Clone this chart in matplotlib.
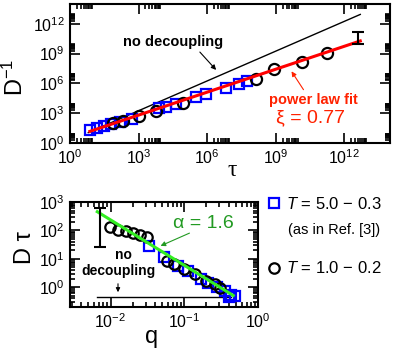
import numpy as np
import matplotlib
matplotlib.use('Agg')
import matplotlib.pyplot as plt
from matplotlib.ticker import FixedLocator, FuncFormatter, NullFormatter

plt.rcParams['font.family'] = ['Liberation Sans', 'DejaVu Sans']
plt.rcParams['mathtext.fontset'] = 'custom'
plt.rcParams['mathtext.rm'] = 'Liberation Sans'
plt.rcParams['mathtext.it'] = 'Liberation Sans:italic'

# ---- top panel data (log10 values) ----
tau_sq = [0.87, 1.17, 1.48, 1.78, 2.17, 2.70, 3.91, 4.22, 4.65, 5.52, 5.96, 6.83, 7.39, 7.74]
dinv_sq = [1.30, 1.55, 1.70, 1.90, 2.15, 2.45, 3.50, 3.65, 3.97, 4.60, 4.90, 5.50, 5.95, 6.25]
tau_ci = [1.88, 2.32, 3.04, 3.78, 4.93, 8.14, 8.91, 10.14, 11.23]
dinv_ci = [1.97, 2.23, 2.70, 3.20, 4.03, 6.47, 7.47, 8.20, 9.07]
tau_err, dinv_err, dinv_err_half = 12.6, 10.55, 0.6
fit_tau = [0.87, 12.7]
xi, fit_amp = 0.77, 0.5
nodec_tau = [0.8, 12.7]
nodec_off = 0.25

# ---- bottom panel data ----
q_sq = [-1.48, -1.27, -1.09, -0.95, -0.77, -0.68, -0.56, -0.45, -0.39, -0.36, -0.31]
dt_sq = [1.46, 1.07, 0.75, 0.57, 0.27, 0.15, 0.00, -0.14, -0.36, -0.26, -0.32]
q_ci = [-2.01, -1.90, -1.79, -1.69, -1.60, -1.50, -1.23, -1.135, -1.00, -0.86, -0.70, -0.59, -0.52]
dt_ci = [2.12, 2.03, 1.97, 1.90, 1.82, 1.76, 0.93, 0.81, 0.63, 0.45, 0.21, 0.10, -0.03]
q_err, dt_err, dt_err_half = -2.14, 2.10, 0.69
alpha, alpha_amp = 1.6, -0.83
alpha_q = [-2.18, -0.335]
nodec_q, nodec_dt = [-2.18, -0.36], -0.36

W, H = 395, 350
fig = plt.figure(figsize=(W / 100, H / 100), dpi=100)


def fx(x):
    return x / W


def fy(y):
    return 1 - y / H


def style_axes(ax):
    for s in ax.spines.values():
        s.set_linewidth(1.5)
    ax.tick_params(which='both', direction='in', top=True, right=True, width=1.2)
    ax.tick_params(which='major', length=7, labelsize=11.5, pad=4)
    ax.tick_params(which='minor', length=3.5)


def sci(v, pos):
    return r'$10^{%d}$' % round(np.log10(v))


# ================= top panel =================
ax1 = fig.add_axes([fx(70), fy(143), fx(390) - fx(70), fy(4) - fy(143)])
ax1.set_xscale('log')
ax1.set_yscale('log')

t = 10 ** np.array(nodec_tau)
ax1.plot(t, t * 10 ** nodec_off, color='black', lw=1.0, zorder=1)
ax1.plot(10 ** np.array(tau_sq), 10 ** np.array(dinv_sq), 's', ms=7, mfc='none',
         mec='#0000ff', mew=1.6, zorder=2)
ax1.plot(10 ** np.array(tau_ci), 10 ** np.array(dinv_ci), 'o', ms=8, mfc='none',
         mec='black', mew=1.6, zorder=3)
tf = 10 ** np.array(fit_tau)
ax1.plot(tf, 10 ** fit_amp * tf ** xi, color='#ff0000', lw=2.2, zorder=4)
ax1.errorbar([10 ** tau_err], [10 ** dinv_err],
             yerr=[[10 ** dinv_err - 10 ** (dinv_err - dinv_err_half)],
                   [10 ** (dinv_err + dinv_err_half) - 10 ** dinv_err]],
             fmt='none', ecolor='black', elinewidth=1.5, capsize=4, capthick=1.5, zorder=5)

ax1.set_xlim(1, 1e14)
ax1.set_ylim(1, 1e14)
maj = 10.0 ** np.arange(0, 15, 3)
mnr = np.concatenate([k * maj for k in range(2, 10)])
for axis in (ax1.xaxis, ax1.yaxis):
    axis.set_major_locator(FixedLocator(maj))
    axis.set_minor_locator(FixedLocator(mnr))
    axis.set_major_formatter(FuncFormatter(sci))
    axis.set_minor_formatter(NullFormatter())
style_axes(ax1)

fig.text(fx(15), fy(77), r'D$^{\mathregular{-1}}$', fontsize=17, rotation=90, ha='center', va='center')
fig.text(fx(232), fy(171), 'τ', fontsize=17, family='Liberation Serif', ha='center', va='center')

fig.text(fx(173), fy(42), 'no decoupling', fontsize=10.5, fontweight='bold', ha='center', va='center')
ax1.annotate('', xy=(218, H - 72), xycoords='figure pixels', xytext=(198, H - 50),
             textcoords='figure pixels',
             arrowprops=dict(arrowstyle='-|>', color='black', lw=0.8, mutation_scale=7))
fig.text(fx(313), fy(100), 'power law fit', fontsize=10.5, fontweight='bold', color='#ff2200',
         ha='center', va='center')
fig.text(fx(310), fy(118), 'ξ = 0.77', fontsize=14, color='#ff2200', ha='center', va='center')
ax1.annotate('', xy=(290, H - 69), xycoords='figure pixels', xytext=(305, H - 92),
             textcoords='figure pixels',
             arrowprops=dict(arrowstyle='-|>', color='#ff2200', lw=0.8, mutation_scale=7))

# ================= bottom panel =================
ax2 = fig.add_axes([fx(70), fy(307), fx(258) - fx(70), fy(202) - fy(307)])
ax2.set_xscale('log')
ax2.set_yscale('log')

ax2.plot(10 ** np.array(nodec_q), [10 ** nodec_dt] * 2, color='black', lw=1.0, zorder=1)
h_sq, = ax2.plot(10 ** np.array(q_sq), 10 ** np.array(dt_sq), 's', ms=7, mfc='none',
                 mec='#0000ff', mew=1.6, zorder=2)
h_ci, = ax2.plot(10 ** np.array(q_ci), 10 ** np.array(dt_ci), 'o', ms=7.5, mfc='none',
                 mec='black', mew=1.6, zorder=3)
qa = 10 ** np.array(alpha_q)
ax2.plot(qa, 10 ** alpha_amp * qa ** (-alpha), color='#33ee22', lw=2.2, zorder=4)
ax2.errorbar([10 ** q_err], [10 ** dt_err],
             yerr=[[10 ** dt_err - 10 ** (dt_err - dt_err_half)],
                   [10 ** (dt_err + dt_err_half) - 10 ** dt_err]],
             fmt='none', ecolor='black', elinewidth=1.5, capsize=4, capthick=1.5, zorder=5)

ax2.set_xlim(10 ** -2.55, 1)
ax2.set_ylim(0.2, 1000)
ax2.xaxis.set_major_formatter(FuncFormatter(sci))
ax2.yaxis.set_major_formatter(FuncFormatter(sci))
style_axes(ax2)

fig.text(fx(25), fy(248), 'D τ', fontsize=17, rotation=90, ha='center', va='center')
fig.text(fx(152), fy(337), 'q', fontsize=17, ha='center', va='center')

fig.text(fx(203), fy(223), 'α = 1.6', fontsize=14, color='#229a22', ha='center', va='center')
ax2.annotate('', xy=(158, H - 247), xycoords='figure pixels', xytext=(192, H - 232),
             textcoords='figure pixels',
             arrowprops=dict(arrowstyle='-|>', color='#229a22', lw=0.8, mutation_scale=7))
fig.text(fx(123), fy(255), 'no', fontsize=10, fontweight='bold', ha='center', va='center')
fig.text(fx(118), fy(271), 'decoupling', fontsize=10, fontweight='bold', ha='center', va='center')
ax2.annotate('', xy=(118, H - 295), xycoords='figure pixels', xytext=(118, H - 281),
             textcoords='figure pixels',
             arrowprops=dict(arrowstyle='-|>', color='black', lw=0.8, mutation_scale=6))

leg = fig.legend([h_sq, h_ci], [r'$T$ = 5.0 − 0.3', r'$T$ = 1.0 − 0.2'],
                 loc='upper left', bbox_to_anchor=(fx(268), fy(196)), frameon=False,
                 fontsize=12, handlelength=0.7, handletextpad=0.4, labelspacing=2.9,
                 borderpad=0, borderaxespad=0)
fig.text(fx(288), fy(230), '(as in Ref. [3])', fontsize=10.5, ha='left', va='center')

fig.savefig('out.png', dpi=100)
